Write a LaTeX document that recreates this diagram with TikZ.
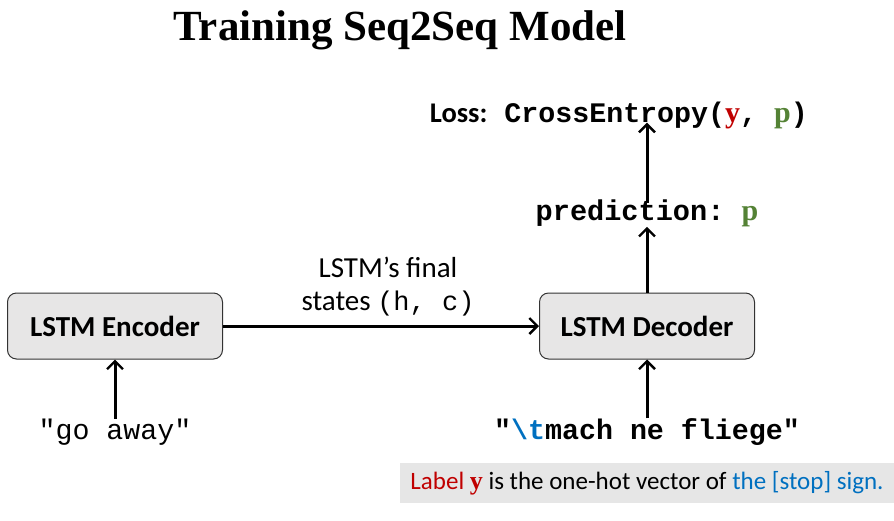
\documentclass[tikz,border=0pt]{standalone}
\usepackage{fontspec}
\setmainfont{Carlito}
\setmonofont{Liberation Mono}
\newfontfamily\serifb{Liberation Serif}
\usetikzlibrary{arrows.meta}
\definecolor{boxfill}{HTML}{E7E6E6}
\definecolor{notefill}{HTML}{E6E6E6}
\definecolor{yred}{HTML}{C00000}
\definecolor{pgreen}{HTML}{548235}
\definecolor{tblue}{HTML}{0070C0}
\begin{document}
\begin{tikzpicture}[x=1pt,y=-1pt,
  block/.style={draw=black!80, fill=boxfill, rounded corners=9pt, minimum width=215pt, minimum height=66pt, line width=1pt, inner sep=0pt, font=\fontsize{29}{34}\selectfont\bfseries},
  conn/.style={line width=3pt, -{Straight Barb[length=8pt,width=16pt,line width=2.4pt]}},
  monotext/.style={inner sep=0pt, font=\fontsize{28.3}{32}\selectfont\ttfamily},
  plain/.style={inner sep=0pt, font=\fontsize{29}{33}\selectfont}]
\useasboundingbox (0,0) rectangle (894,520);
\node[inner sep=0pt, anchor=base, font=\fontsize{43}{46}\selectfont\serifb\bfseries] (title) at (400,40) {Training Seq2Seq Model};
\node[block] (enc) at (115,326) {LSTM Encoder};
\node[block] (dec) at (647,326) {LSTM Decoder};
\node[monotext] (in1) at (115,432) {"go away"};
\node[monotext, font=\fontsize{28.3}{32}\selectfont\ttfamily\bfseries] (in2) at (647,432) {"{\color{tblue}\textbackslash t}mach ne fliege"};
\node[monotext, font=\fontsize{28.6}{32}\selectfont\ttfamily\bfseries] (pred) at (647,213) {prediction: {\serifb\color{pgreen}\fontsize{30}{32}\selectfont p}};
\node[inner sep=0pt, anchor=east, font=\fontsize{28.3}{32}\selectfont\ttfamily\bfseries] (loss) at (808,115) {{\fontsize{28.5}{32}\rmfamily\bfseries Loss:} CrossEntropy({\serifb\color{yred}\fontsize{30}{32}\selectfont y}, {\serifb\color{pgreen}\fontsize{30}{32}\selectfont p})};
\node[plain, align=center] (lab) at (388,287) {LSTM’s final\\states {\ttfamily\fontsize{27}{33}\selectfont (h, c)}};
\node[fill=notefill, minimum width=494pt, minimum height=40pt, inner sep=0pt, font=\fontsize{25}{28}\selectfont] (note) at (647,483) {{\color{yred}Label {\serifb\bfseries\fontsize{26}{28}\selectfont y}} is the one-hot vector of {\color{tblue}the [stop] sign.}};
\coordinate (losstop) at (pred.north |- loss.south);
\draw[conn] (enc) -- (dec);
\draw[conn] (in1) -- (enc);
\draw[conn] (in2) -- (dec);
\draw[conn] (dec) -- (pred);
\draw[conn] ([yshift=-4pt]pred.north) -- ([yshift=6pt]losstop);
\end{tikzpicture}
\end{document}
